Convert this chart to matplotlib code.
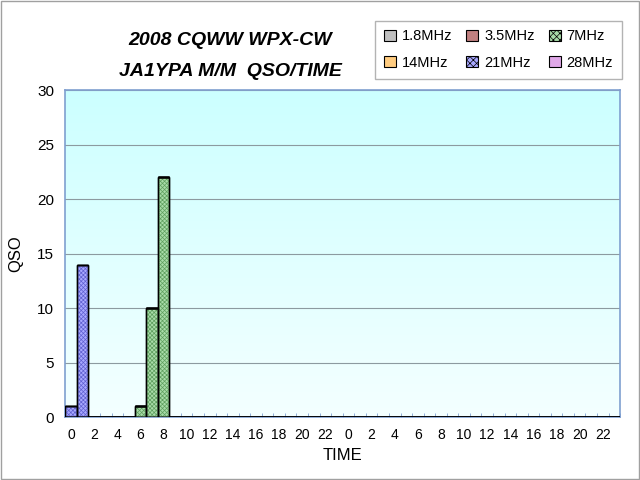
import numpy as np
import matplotlib
matplotlib.use('Agg')
import matplotlib.pyplot as plt
from matplotlib.patches import Patch

# Hours over the 48 h contest (UTC), labels every 2 hours
hours = list(range(24)) + list(range(24))
bands = ['1.8MHz', '3.5MHz', '7MHz', '14MHz', '21MHz', '28MHz']
colors = ['#C0C0C0', '#C08080', '#A8DCA8', '#FFCC80', '#A8A8FF', '#E0A8E8']
hatch_colors = ['#808080', '#905050', '#5E9E5E', '#B07020', '#6060D0', '#905090']

q_18 = [0] * 48
q_35 = [0] * 48
q_7 = [0, 0, 0, 0, 0, 0, 1, 10, 22] + [0] * 39
q_14 = [0] * 48
q_21 = [1, 14] + [0] * 46
q_28 = [0] * 48
series = [q_18, q_35, q_7, q_14, q_21, q_28]

plt.rcParams['font.family'] = ['Liberation Sans', 'DejaVu Sans']
plt.rcParams['hatch.linewidth'] = 0.5

fig = plt.figure(figsize=(6.4, 4.8), dpi=100)
ax = fig.add_axes([0.102, 0.131, 0.867, 0.681])

x = np.arange(len(hours))

# Background gradient (light cyan at the top, fading to white)
grad = np.linspace(0, 1, 256).reshape(-1, 1)
ax.imshow(grad, extent=[-0.5, 47.5, 0, 30], aspect='auto', origin='lower',
          cmap=matplotlib.colors.LinearSegmentedColormap.from_list(
              'bg', ['#F4FFFF', '#CCFFFF']), zorder=0)

bottom = np.zeros(len(hours))
for vals, c, hc in zip(series, colors, hatch_colors):
    v = np.array(vals)
    ax.bar(x, v, width=1.0, bottom=bottom, color=c, edgecolor='black',
           linewidth=1.0, zorder=3)
    ax.bar(x, v, width=1.0, bottom=bottom, fill=False, hatch='xxxxxxxx',
           edgecolor=hc, linewidth=0, zorder=3)
    ax.bar(x, v, width=1.0, bottom=bottom, fill=False, edgecolor='black',
           linewidth=1.0, zorder=4)
    bottom += v

ax.set_xlim(-0.5, 47.5)
ax.set_ylim(0, 30)
ax.set_yticks(range(0, 31, 5))
ax.yaxis.grid(True, color='#8C9AA0', linewidth=0.8, zorder=1)
ax.set_axisbelow(True)

ax.set_xticks(x[::2])
ax.set_xticklabels([str(h) for h in hours[::2]])
ax.set_xticks(np.arange(-0.5, 48, 1), minor=True)
ax.tick_params(axis='x', which='major', length=0, pad=8, labelsize=10)
ax.tick_params(axis='x', which='minor', direction='in', length=3, color='#7F9FD0')
ax.tick_params(axis='y', length=0, pad=8, labelsize=11)

for s in ax.spines.values():
    s.set_color('#7F9FD0')
    s.set_linewidth(1.2)

ax.set_xlabel('TIME', fontsize=12, labelpad=4)
ax.set_ylabel('QSO', fontsize=12, labelpad=10)

fig.text(0.36, 0.915, '2008 CQWW WPX-CW', ha='center', va='center',
         fontsize=14, fontweight='heavy', style='italic')
fig.text(0.36, 0.852, 'JA1YPA M/M  QSO/TIME', ha='center', va='center',
         fontsize=14, fontweight='heavy', style='italic')

# legend is filled row by row in the reference: reorder for column filling
order = [0, 3, 1, 4, 2, 5]
handles = [Patch(facecolor=colors[i], edgecolor='black',
                 hatch='xxxxx' if i in (2, 4) else None, linewidth=0.8) for i in order]
fig.legend(handles, [bands[i] for i in order], loc='upper right',
           bbox_to_anchor=(0.983, 0.972),
           ncol=3, fontsize=10.5, frameon=True, fancybox=False, edgecolor='#A0A0A0',
           handlelength=0.8, handleheight=0.8, columnspacing=1.0, handletextpad=0.4,
           labelspacing=0.85, borderpad=0.6)

# thin grey frame around the figure
fig.patches.append(plt.Rectangle((0.002, 0.002), 0.996, 0.996, transform=fig.transFigure,
                                 fill=False, edgecolor='#A0A0A0', linewidth=1))

fig.savefig('out.png', dpi=100)
